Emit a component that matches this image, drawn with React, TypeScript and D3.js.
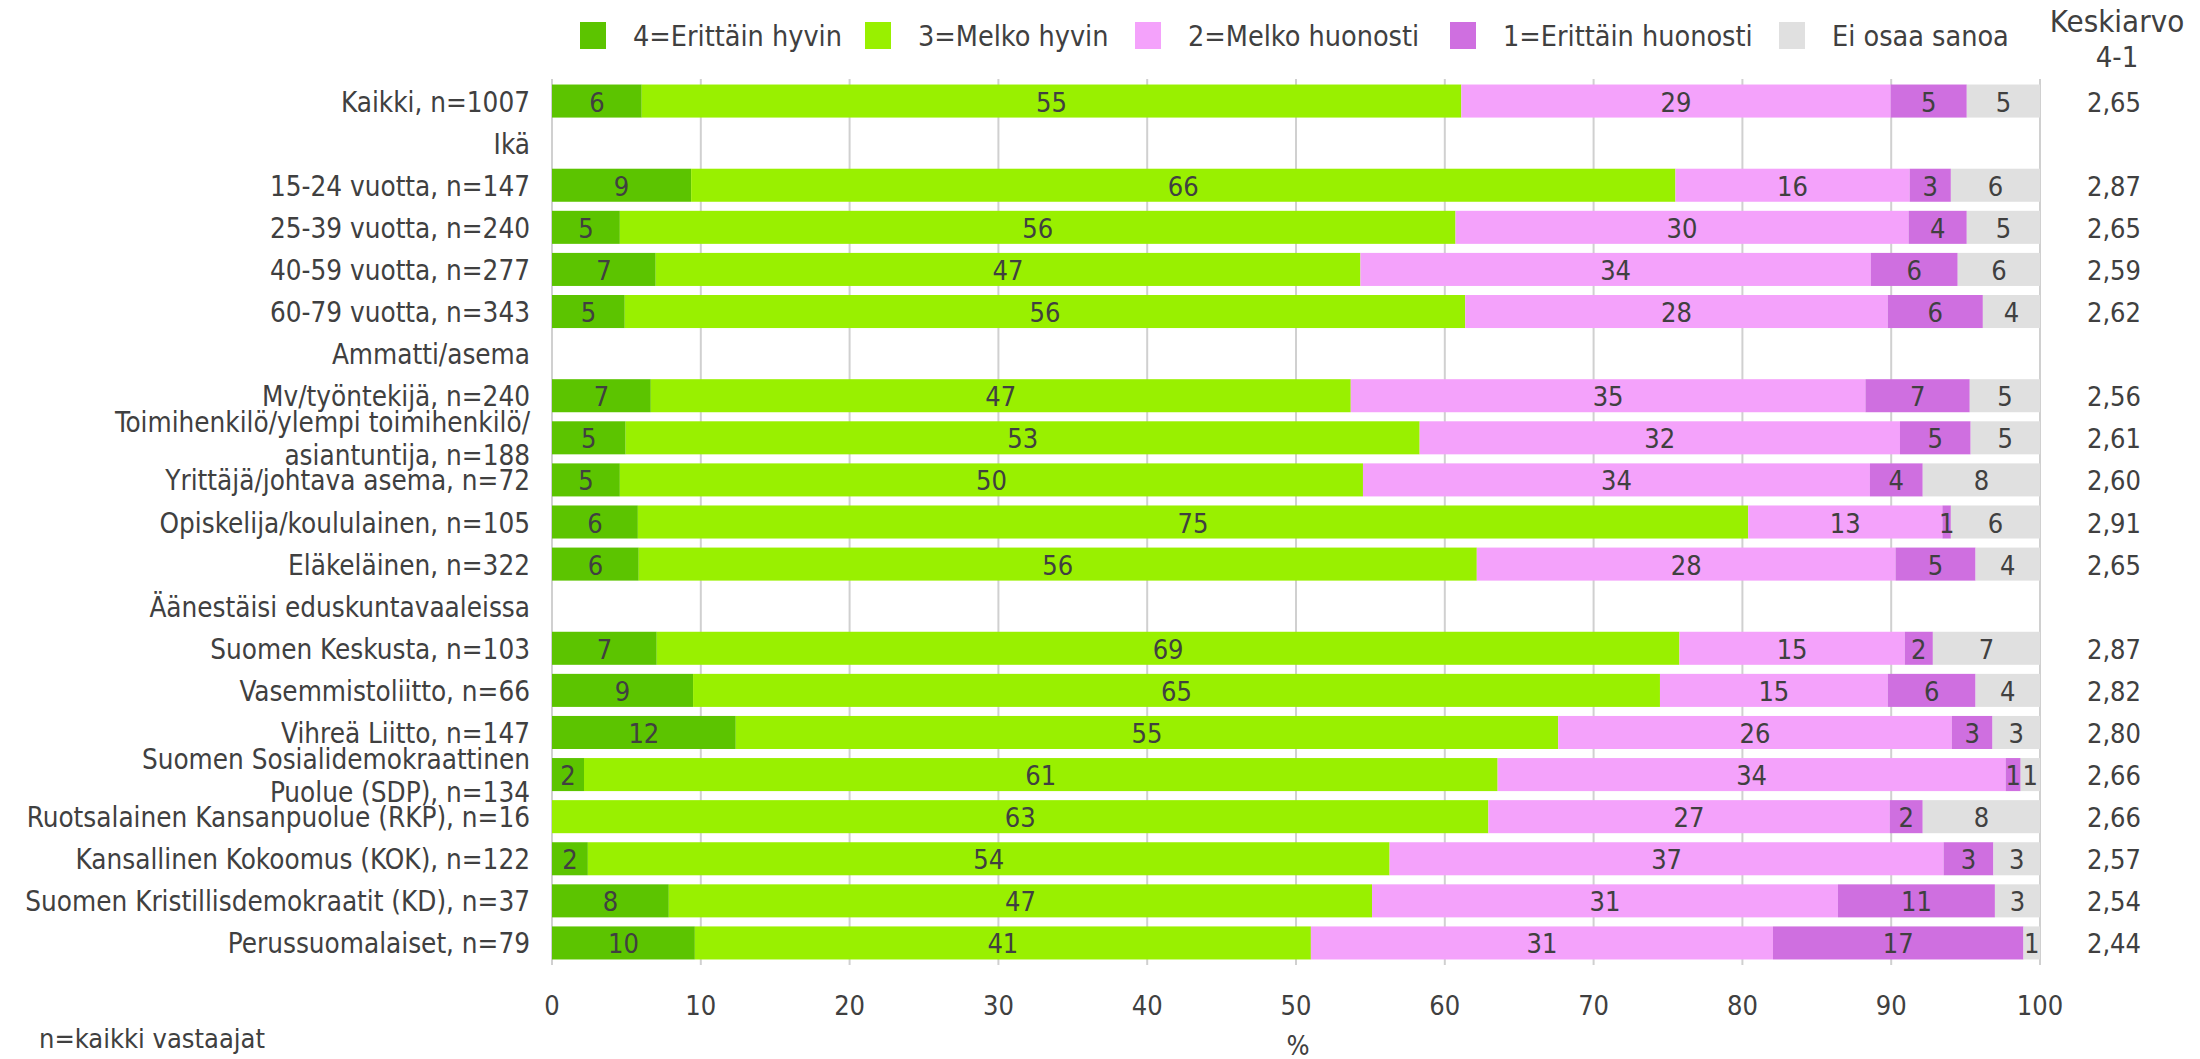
import React from "react";
import * as d3 from "d3";

const categories = [
  "Kaikki, n=1007",
  "Ikä",
  "15-24 vuotta, n=147",
  "25-39 vuotta, n=240",
  "40-59 vuotta, n=277",
  "60-79 vuotta, n=343",
  "Ammatti/asema",
  "Mv/työntekijä, n=240",
  "Toimihenkilö/ylempi toimihenkilö/\nasiantuntija, n=188",
  "Yrittäjä/johtava asema, n=72",
  "Opiskelija/koululainen, n=105",
  "Eläkeläinen, n=322",
  "Äänestäisi eduskuntavaaleissa",
  "Suomen Keskusta, n=103",
  "Vasemmistoliitto, n=66",
  "Vihreä Liitto, n=147",
  "Suomen Sosialidemokraattinen\nPuolue (SDP), n=134",
  "Ruotsalainen Kansanpuolue (RKP), n=16",
  "Kansallinen Kokoomus (KOK), n=122",
  "Suomen Kristillisdemokraatit (KD), n=37",
  "Perussuomalaiset, n=79",
];

const seriesNames = [
  "4=Erittäin hyvin",
  "3=Melko hyvin",
  "2=Melko huonosti",
  "1=Erittäin huonosti",
  "Ei osaa sanoa",
];

const veryGood = [6.03, null, 9.35, 4.56, 6.97, 4.89, null, 6.64, 4.95, 4.56, 5.77, 5.83, null, 7.04, 9.48, 12.35, 2.15, 0, 2.41, 7.85, 9.6];
const fairlyGood = [55.08, null, 66.15, 56.16, 47.36, 56.48, null, 47.04, 53.36, 49.94, 74.62, 56.32, null, 68.73, 64.98, 55.27, 61.4, 62.93, 53.88, 47.26, 41.4];
const fairlyBad = [28.86, null, 15.74, 30.45, 34.3, 28.4, null, 34.59, 32.28, 34.07, 13.05, 28.14, null, 15.14, 15.31, 26.45, 34.14, 26.97, 37.23, 31.31, 31.05];
const veryBad = [5.11, null, 2.77, 3.91, 5.84, 6.39, null, 7.01, 4.75, 3.55, 0.57, 5.38, null, 1.89, 5.9, 2.74, 1.01, 2.22, 3.35, 10.55, 16.84];
const dontKnow = [4.92, null, 5.99, 4.92, 5.53, 3.84, null, 4.72, 4.66, 7.88, 5.99, 4.33, null, 7.2, 4.33, 3.19, 1.3, 7.88, 3.13, 3.03, 1.11];

const means = ["2,65", "", "2,87", "2,65", "2,59", "2,62", "", "2,56", "2,61", "2,60", "2,91", "2,65", "", "2,87", "2,82", "2,80", "2,66", "2,66", "2,57", "2,54", "2,44"];

const xTicks = [0, 10, 20, 30, 40, 50, 60, 70, 80, 90, 100];

const colors = ["#5cc400", "#99f000", "#f4a2fb", "#cf6fe0", "#e0e0e0"];

const FONT = "'DejaVu Sans Condensed', 'Liberation Sans Narrow', sans-serif";
const TEXT = "#404040";

export default function App() {
  const W = 2200;
  const H = 1059;
  const x = d3.scaleLinear().domain([0, 100]).range([552, 2040]);
  const y = d3
    .scaleBand<number>()
    .domain(d3.range(categories.length))
    .range([80, 964])
    .paddingInner(0.215)
    .paddingOuter(0.1075);

  const table = categories.map((c, i) => ({
    cat: c,
    vals: [veryGood[i], fairlyGood[i], fairlyBad[i], veryBad[i], dontKnow[i]],
  }));
  const stack = d3
    .stack<any>()
    .keys([0, 1, 2, 3, 4] as any)
    .value((d: any, k: any) => (d.vals[k] == null ? 0 : d.vals[k]));
  const stacked = stack(table);

  const legendX = [580, 865, 1135, 1450, 1779];
  const fs = 27;

  return (
    <svg
      width={W}
      height={H}
      style={{ position: "absolute", left: 0, top: 0, background: "#fff" }}
      fontFamily={FONT}
    >
      {/* legend */}
      {seriesNames.map((s, i) => (
        <g key={s}>
          <rect x={legendX[i]} y={22} width={26} height={27} fill={colors[i]} />
          <text x={legendX[i] + 53} y={36} fontSize={28.5} fill={TEXT} dominantBaseline="central">
            {s}
          </text>
        </g>
      ))}
      <text x={2117} y={21} fontSize={31} fill={TEXT} textAnchor="middle" dominantBaseline="central">
        Keskiarvo
      </text>
      <text x={2117} y={57} fontSize={29} fill={TEXT} textAnchor="middle" dominantBaseline="central">
        4-1
      </text>

      {/* gridlines */}
      {xTicks.map((t) => (
        <line key={t} x1={x(t)} x2={x(t)} y1={79} y2={965} stroke="#d0d0d0" strokeWidth={2} />
      ))}

      {/* bars */}
      {stacked.map((layer, si) =>
        layer.map((seg, ci) => {
          const v = table[ci].vals[si];
          if (v == null || v <= 0) return null;
          const x0 = x(seg[0]);
          const x1 = x(seg[1]);
          return (
            <rect
              key={`${si}-${ci}`}
              x={x0}
              y={y(ci)}
              width={x1 - x0}
              height={y.bandwidth()}
              fill={colors[si]}
            />
          );
        })
      )}
      {/* bar labels */}
      {stacked.map((layer, si) =>
        layer.map((seg, ci) => {
          const v = table[ci].vals[si];
          if (v == null || v <= 0) return null;
          return (
            <text
              key={`t${si}-${ci}`}
              x={(x(seg[0]) + x(seg[1])) / 2}
              y={(y(ci) as number) + y.bandwidth() / 2 + 1}
              fontSize={fs}
              fill={TEXT}
              textAnchor="middle"
              dominantBaseline="central"
            >
              {Math.round(v)}
            </text>
          );
        })
      )}

      {/* category labels */}
      {categories.map((c, i) => {
        const lines = c.split("\n");
        const cy = (y(i) as number) + y.bandwidth() / 2;
        return lines.map((ln, li) => (
          <text
            key={`c${i}-${li}`}
            x={530}
            y={cy + (li - (lines.length - 1) / 2) * 33 + 1}
            fontSize={27.6}
            fill={TEXT}
            textAnchor="end"
            dominantBaseline="central"
          >
            {ln}
          </text>
        ));
      })}

      {/* means */}
      {means.map((m, i) =>
        m ? (
          <text
            key={`m${i}`}
            x={2114}
            y={(y(i) as number) + y.bandwidth() / 2 + 1}
            fontSize={fs}
            fill={TEXT}
            textAnchor="middle"
            dominantBaseline="central"
          >
            {m}
          </text>
        ) : null
      )}

      {/* x axis ticks */}
      {xTicks.map((t) => (
        <text key={`xt${t}`} x={x(t)} y={1005} fontSize={fs} fill={TEXT} textAnchor="middle" dominantBaseline="central">
          {t}
        </text>
      ))}
      <text x={1298} y={1045} fontSize={fs} fill={TEXT} textAnchor="middle" dominantBaseline="central">
        %
      </text>
      <text x={39} y={1038} fontSize={fs} fill={TEXT} dominantBaseline="central">
        n=kaikki vastaajat
      </text>
    </svg>
  );
}
